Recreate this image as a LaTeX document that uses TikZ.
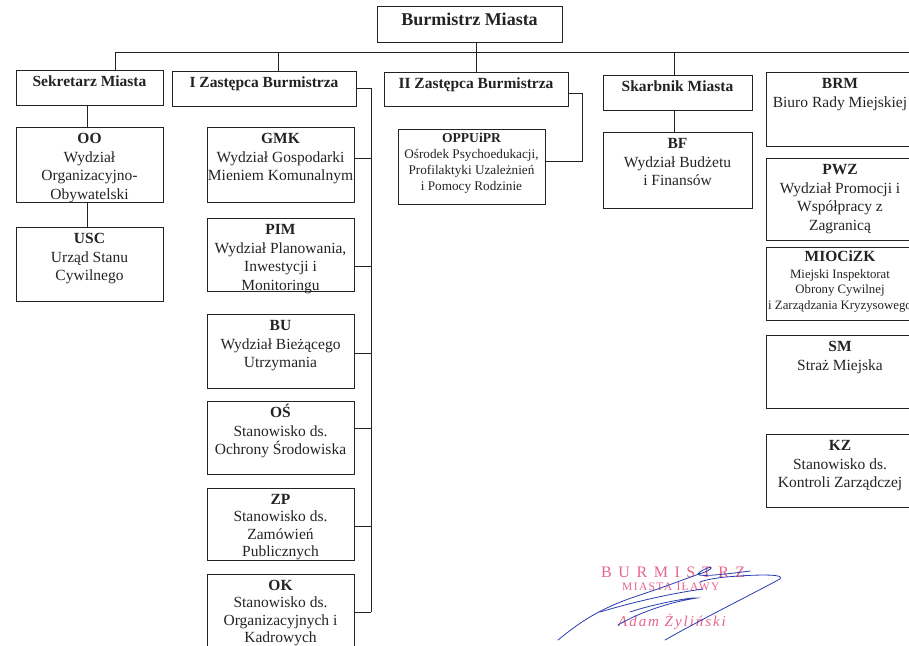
\documentclass[tikz,border=0pt]{standalone}
\usepackage{fontspec}
\setmainfont{Liberation Serif}
\usetikzlibrary{calc}
\definecolor{ink}{RGB}{35,35,35}
\definecolor{stamp}{RGB}{232,100,140}
\definecolor{pen}{RGB}{40,60,175}
\newcommand{\ttl}[1]{\textbf{\rule{0pt}{11pt}\smash{#1}}}
\newcommand{\orgBox}[7][]{%
  \node[orgbox, minimum width={(#5-#3)*1pt}, minimum height={(#6-#4)*1pt}] (#2) at ({(#3+#5)/2},{(#4+#6)/2}) {};
  \node[orgtext,#1] (#2-t) at ([yshift=-5.3pt]#2.north) {#7};}
\begin{document}
\begin{tikzpicture}[x=1pt,y=-1pt,
  orgbox/.style={draw=ink, line width=0.9pt, inner sep=0pt, outer sep=0pt},
  orgtext/.style={anchor=north, inner sep=0pt, align=center, text=ink, font=\fontsize{15.5}{18.5}\selectfont},
  tight/.style={font=\fontsize{15.5}{17.3}\selectfont},
  link/.style={draw=ink, line width=0.9pt},
  stamptext/.style={anchor=base west, inner sep=0pt, text=stamp},
  penline/.style={draw=pen, line width=0.8pt, line cap=round}]
\useasboundingbox (0,0) rectangle (909,645);
\clip (0,0) rectangle (909,645);

% top
\node[orgbox, minimum width=185pt, minimum height=36pt] (burm) at (469.5,24) {};
\node[anchor=base, inner sep=0pt, text=ink, font=\fontsize{18}{20}\selectfont\bfseries] (burm-t) at ([yshift=-19pt]burm.north) {Burmistrz Miasta};

% second level
\orgBox{sek}{16}{70}{163}{105}{\ttl{Sekretarz Miasta}}
\orgBox{izs}{172}{71}{356}{106}{\ttl{I Zastępca Burmistrza}}
\orgBox{iiz}{384}{72}{568}{106}{\ttl{II Zastępca Burmistrza}}
\orgBox{skb}{603}{75}{752}{110}{\ttl{Skarbnik Miasta}}

% Sekretarz column
\orgBox{oo}{16}{127}{163}{202}{\ttl{OO}\\Wydział\\Organizacyjno-\\Obywatelski}
\orgBox{usc}{16}{227}{163}{301}{\ttl{USC}\\Urząd Stanu\\Cywilnego}

% I Zastepca column
\orgBox{gmk}{207}{127}{354}{202}{\ttl{GMK}\\Wydział Gospodarki\\Mieniem Komunalnym}
\orgBox{pim}{207}{218}{354}{291}{\ttl{PIM}\\Wydział Planowania,\\Inwestycji i\\Monitoringu}
\orgBox{bu}{207}{314}{354}{388}{\ttl{BU}\\Wydział Bieżącego\\Utrzymania}
\orgBox{os}{207}{401}{354}{474}{\ttl{OŚ}\\Stanowisko ds.\\Ochrony Środowiska}
\orgBox[tight]{zp}{207}{488}{354}{560}{\ttl{ZP}\\Stanowisko ds.\\Zamówień\\Publicznych}
\orgBox[tight]{ok}{207}{574}{354}{650}{\ttl{OK}\\Stanowisko ds.\\Organizacyjnych i\\Kadrowych}

% II Zastepca
\orgBox[yshift=3.3pt, font=\fontsize{13.2}{16}\selectfont]{oppu}{398}{129}{545}{204}{{\fontsize{13.6}{16}\selectfont\ttl{OPPUiPR}}\\Ośrodek Psychoedukacji,\\Profilaktyki Uzależnień\\i Pomocy Rodzinie}

% Skarbnik
\orgBox{bf}{603}{132}{752}{208}{\ttl{BF}\\Wydział Budżetu\\i Finansów}

% right column
\orgBox{brm}{766}{72}{914}{146}{\ttl{BRM}\\Biuro Rady Miejskiej}
\orgBox{pwz}{766}{158}{914}{240}{\ttl{PWZ}\\Wydział Promocji i\\Współpracy z\\Zagranicą}
\orgBox[yshift=2.3pt, font=\fontsize{12.8}{15.5}\selectfont]{mio}{766}{247}{914}{320}{{\fontsize{15.5}{15.5}\selectfont\ttl{MIOCiZK}}\\[1.5pt]Miejski Inspektorat\\Obrony Cywilnej\\i Zarządzania Kryzysowego}
\orgBox{sm}{766}{335}{914}{408}{\ttl{SM}\\Straż Miejska}
\orgBox{kz}{766}{434}{914}{507}{\ttl{KZ}\\Stanowisko ds.\\Kontroli Zarządczej}

% bus
\coordinate (busL) at (115,52);
\coordinate (busR) at (914,52);
\coordinate (izsDrop) at (278,52);
\coordinate (skbDrop) at (674,52);
\draw[link] (busL) -- (busR);
\draw[link] (iiz.north) -- (iiz.north |- burm.south);
\draw[link] (busL) -- (busL |- sek.north);
\draw[link] (izsDrop) -- (izsDrop |- izs.north);
\draw[link] (skbDrop) -- (skbDrop |- skb.north);

% Sekretarz links
\draw[link] ([xshift=-2.5pt]sek.south) -- ([xshift=-2.5pt]oo.north);
\draw[link] ([xshift=-2.5pt]oo.south) -- ([xshift=-2.5pt]usc.north);

% I Zastepca links
\coordinate (ivtop) at (371,88.5);
\coordinate (ivbot) at (371,612);
\draw[link] (izs.east) -- (ivtop) -- (ivbot);
\draw[link] ([yshift=6.5pt]gmk.east) -- ++(17,0);
\draw[link] ([yshift=-11.5pt]pim.east) -- ++(17,0);
\draw[link] ([yshift=-2pt]bu.east) -- ++(17,0);
\draw[link] ([yshift=9.5pt]os.east) -- ++(17,0);
\draw[link] ([yshift=-2pt]zp.east) -- ++(17,0);
\draw[link] (ok.east) -- ++(17,0);

% II Zastepca link
\coordinate (iiA) at (582,93);
\coordinate (iiB) at (582,161);
\draw[link] ([yshift=-4pt]iiz.east) -- (iiA) -- (iiB) -- ([yshift=5.5pt]oppu.east);

% Skarbnik link
\draw[link] ([xshift=-3.5pt]skb.south) -- ([xshift=-3.5pt]bf.north);

% stamp
\node[stamptext, font=\fontsize{16}{18}\selectfont\addfontfeature{LetterSpace=41}] (st1) at (601,577) {BURMISTRZ};
\node[stamptext, font=\fontsize{11.5}{13}\selectfont\addfontfeature{LetterSpace=12}] (st2) at (622,590) {MIASTA IŁAWY};
\node[stamptext, font=\fontsize{15}{17}\selectfont\itshape\addfontfeature{LetterSpace=13}] (st3) at (618,626) {Adam Żyliński};

% signature
\draw[penline] (558,640) .. controls (580,622) and (600,608) .. (640,595) .. controls (670,585) and (690,577) .. (705,572) .. controls (715,568) and (712,564) .. (700,572) .. controls (690,578) and (720,575) .. (750,571);
\draw[penline] (600,612) .. controls (640,600) and (680,592) .. (703,589);
\draw[penline] (618,625) .. controls (640,612) and (670,602) .. (697,598) .. controls (690,597) and (650,605) .. (630,612);
\draw[penline] (665,640) .. controls (700,620) and (760,590) .. (778,580) .. controls (790,574) and (760,574) .. (726,577) .. controls (715,578) and (705,580) .. (700,582);
\end{tikzpicture}
\end{document}
